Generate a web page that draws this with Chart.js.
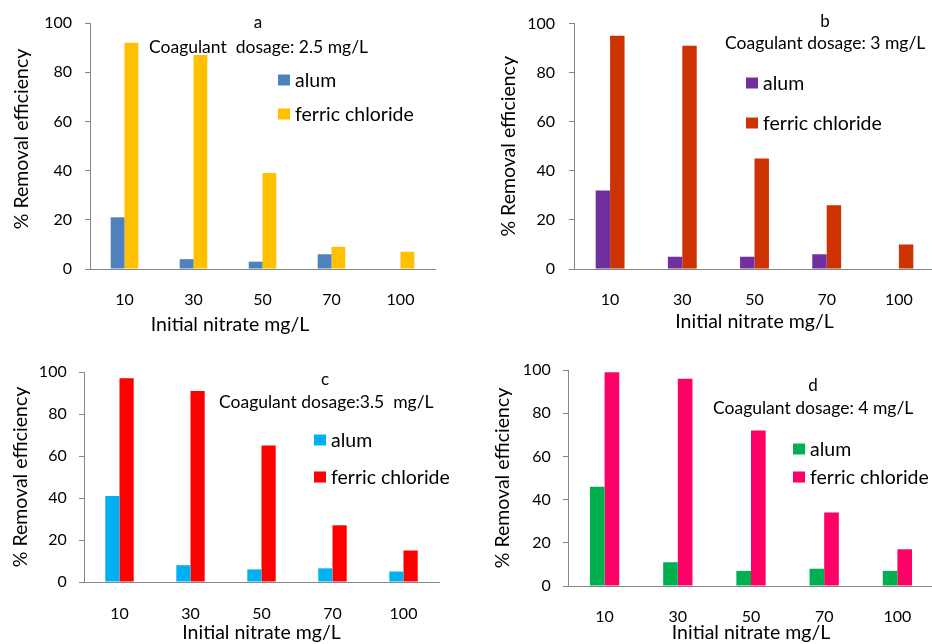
<!DOCTYPE html>
<html lang="en">
<head>
    <meta charset="UTF-8">
    <title>Nitrate removal efficiency</title>
    <script src="https://cdn.jsdelivr.net/npm/chart.js"></script>
    <style>
        body {
            margin: 0;
            width: 932px;
            height: 644px;
            overflow: hidden;
            background: #ffffff;
            position: relative;
        }
        .panel {
            position: absolute;
        }
    </style>
</head>
<body>
    <div class="panel" id="pa" style="left:0px; top:0px; width:466px; height:340px;"><canvas id="chartA"></canvas></div>
    <div class="panel" id="pb" style="left:466px; top:0px; width:470px; height:340px;"><canvas id="chartB"></canvas></div>
    <div class="panel" id="pc" style="left:0px; top:340px; width:466px; height:304px;"><canvas id="chartC"></canvas></div>
    <div class="panel" id="pd" style="left:466px; top:340px; width:470px; height:304px;"><canvas id="chartD"></canvas></div>

    <script>
        // data
        const categories = ['10', '30', '50', '70', '100'];
        const yTicks = [0, 20, 40, 60, 80, 100];
        const seriesNames = ['alum', 'ferric chloride'];

        const alumA = [21, 4, 3, 6, null];
        const ferricA = [92, 87, 39, 9, 7];
        const alumB = [32, 5, 5, 6, null];
        const ferricB = [95, 91, 45, 26, 10];
        const alumC = [41, 8, 6, 6.5, 5];
        const ferricC = [97, 91, 65, 27, 15];
        const alumD = [46, 11, 7, 8, 7];
        const ferricD = [99, 96, 72, 34, 17];

        const letters = ['a', 'b', 'c', 'd'];
        const dosages = ['Coagulant  dosage: 2.5 mg/L', 'Coagulant dosage: 3 mg/L', 'Coagulant dosage:3.5  mg/L', 'Coagulant dosage: 4 mg/L'];
        const xTitle = 'Initial nitrate mg/L';
        const yTitle = '% Removal efficiency';

        const FONT = 'Lato, "Open Sans", sans-serif';
        const TITLE_SIZE = 19.5;
        const AXIS_GREY = '#868686';

        // panel-specific layout (pixels inside each canvas)
        const panels = [
            { canvas: 'chartA', alum: alumA, ferric: ferricA, colors: ['#4F81BD', '#FFC000'],
              padTop: 23, padRight: 31, yWidth: 90, xHeight: 71, yTickPad: 13, xTickPad: 13.4, xTitlePad: 3.3, yTitlePad: 10.3,
              ownTitles: { x: [230, 325], y: [22, 139] },
              letterX: 258, letterY: 23, dosageX: 149, dosageY: 47, legendX: 278, legendY: [80, 114] },
            { canvas: 'chartB', alum: alumB, ferric: ferricB, colors: ['#7030A0', '#CC3300'],
              padTop: 23, padRight: 1, yWidth: 108, xHeight: 71, yTickPad: 14, xTickPad: 13.7, xTitlePad: 6.6, yTitlePad: 31.3,
              letterX: 359, letterY: 22, dosageX: 259, dosageY: 43, legendX: 280, legendY: [83, 123] },
            { canvas: 'chartC', alum: alumC, ferric: ferricC, colors: ['#00B0F0', '#FF0000'],
              padTop: 32, padRight: 27, yWidth: 84, xHeight: 62, yTickPad: 12.3, xTickPad: 14, xTitlePad: 0, yTitlePad: 9.3,
              letterX: 325, letterY: 40, dosageX: 219, dosageY: 62, legendX: 314, legendY: [100, 137] },
            { canvas: 'chartD', alum: alumD, ferric: ferricD, colors: ['#00B050', '#FF0066'],
              padTop: 30, padRight: 2, yWidth: 102, xHeight: 58, yTickPad: 12.3, xTickPad: 13.7, xTitlePad: 0, yTitlePad: 25.3,
              letterX: 347, letterY: 46, dosageX: 247, dosageY: 68, legendX: 327, legendY: [109, 137] }
        ];

        // letter, dosage text, the in-plot legend and (panel a) shifted axis titles
        const notesPlugin = {
            id: 'notes',
            afterDraw(chart, args, opts) {
                const ctx = chart.ctx;
                ctx.save();
                ctx.fillStyle = '#000';
                ctx.textBaseline = 'middle';
                ctx.font = '17px ' + FONT;
                ctx.textAlign = 'center';
                ctx.fillText(opts.letter, opts.letterX, opts.letterY);
                ctx.font = '17.5px ' + FONT;
                ctx.textAlign = 'left';
                ctx.fillText(opts.dosage, opts.dosageX, opts.dosageY);
                ctx.font = '19.5px ' + FONT;
                chart.data.datasets.forEach((ds, i) => {
                    const y = opts.legendY[i];
                    ctx.fillStyle = ds.backgroundColor;
                    ctx.fillRect(opts.legendX, y - 5.5, 12, 11);
                    ctx.fillStyle = '#000';
                    ctx.fillText(ds.label, opts.legendX + 17, y + 1);
                });
                if (opts.ownTitles) {
                    ctx.font = TITLE_SIZE + 'px ' + FONT;
                    ctx.textAlign = 'center';
                    ctx.fillText(xTitle, opts.ownTitles.x[0], opts.ownTitles.x[1]);
                    ctx.translate(opts.ownTitles.y[0], opts.ownTitles.y[1]);
                    ctx.rotate(-Math.PI / 2);
                    ctx.fillText(yTitle, 0, 0);
                }
                ctx.restore();
            }
        };

        panels.forEach((p, idx) => {
            new Chart(document.getElementById(p.canvas), {
                type: 'bar',
                data: {
                    labels: categories,
                    datasets: [
                        { label: seriesNames[0], data: p.alum, backgroundColor: p.colors[0] },
                        { label: seriesNames[1], data: p.ferric, backgroundColor: p.colors[1] }
                    ]
                },
                options: {
                    responsive: true,
                    maintainAspectRatio: false,
                    animation: false,
                    categoryPercentage: 0.4,
                    barPercentage: 1.0,
                    layout: { padding: { top: p.padTop, right: p.padRight, left: 0, bottom: 0 } },
                    plugins: {
                        legend: { display: false },
                        tooltip: { enabled: false },
                        notes: {
                            letter: letters[idx], dosage: dosages[idx],
                            letterX: p.letterX, letterY: p.letterY,
                            dosageX: p.dosageX, dosageY: p.dosageY,
                            legendX: p.legendX, legendY: p.legendY,
                            ownTitles: p.ownTitles || null
                        }
                    },
                    scales: {
                        x: {
                            grid: { display: false },
                            border: { display: true, color: AXIS_GREY, width: 1 },
                            ticks: { color: '#000', font: { family: FONT, size: 16 }, padding: p.xTickPad, maxRotation: 0 },
                            title: { display: !p.ownTitles, text: xTitle, color: '#000',
                                     font: { family: FONT, size: TITLE_SIZE }, padding: { top: 0, bottom: p.xTitlePad } },
                            afterFit: s => { s.height = p.xHeight; }
                        },
                        y: {
                            min: 0,
                            max: 100,
                            afterBuildTicks: s => { s.ticks = yTicks.map(v => ({ value: v })); },
                            grid: { display: true, drawOnChartArea: false, drawTicks: true, tickLength: 5, color: AXIS_GREY },
                            border: { display: true, color: AXIS_GREY, width: 1 },
                            ticks: { color: '#000', font: { family: FONT, size: 16 }, padding: p.yTickPad },
                            title: { display: !p.ownTitles, text: yTitle, color: '#000',
                                     font: { family: FONT, size: TITLE_SIZE }, padding: { top: p.yTitlePad, bottom: 0 } },
                            afterFit: s => { s.width = p.yWidth; }
                        }
                    }
                },
                plugins: [notesPlugin]
            });
        });
    </script>
</body>
</html>
